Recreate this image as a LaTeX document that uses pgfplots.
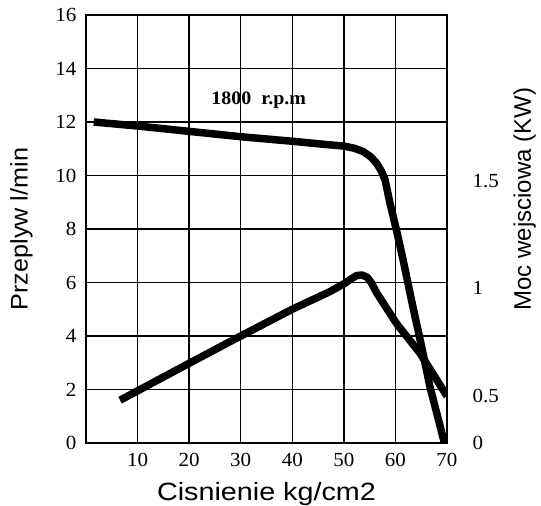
\documentclass[border=0pt]{standalone}
\usepackage{fontspec}
\setmainfont{Liberation Serif}[FakeStretch=1.05]
\newfontfamily\arialx{Liberation Sans}[FakeStretch=1.15]
\newfontfamily\arialy{Liberation Sans}[FakeStretch=1.05]
\newfontfamily\arialr{Liberation Sans}
\usepackage{pgfplots}
\pgfplotsset{compat=1.18}
\begin{document}
\begin{tikzpicture}
\useasboundingbox (-86pt,-63pt) rectangle (455pt,443pt);
\begin{axis}[
  at={(0,0)}, anchor=south west,
  scale only axis, width=361pt, height=428pt,
  xmin=0, xmax=70, ymin=0, ymax=16,
  xtick={10,20,...,70}, ytick={0,2,...,16},
  grid=major,
  major grid style={black, line width=1.3pt},
  axis line style={black, line width=2.2pt},
  major tick length=0pt,
  /pgf/number format/assume math mode=true,
  ticklabel style={font=\fontsize{20}{20}\selectfont},
  xticklabel style={yshift=-7pt},
  yticklabel style={xshift=-6pt},
  xlabel={Cisnienie kg/cm2},
  ylabel={Przeplyw l/min},
  xlabel style={font=\arialx\fontsize{25}{25}\selectfont, yshift=-8pt},
  ylabel style={font=\arialy\fontsize{24}{24}\selectfont, yshift=16pt},
]
\addplot[black, line width=7.5pt, line join=round, line cap=butt] coordinates {
 (1.5,12.0) (10,11.85) (20,11.65) (30,11.45) (40,11.28) (47,11.15) (50,11.1)
 (52,11.02) (53.8,10.89) (55.2,10.7) (56.4,10.45) (57.3,10.15) (58,9.83)
 (58.95,8.96) (60.2,7.96) (61.5,6.84) (63.1,5.35) (64.8,3.85) (66.7,2.1) (69.5,0)
};
\addplot[black, line width=7.5pt, line join=round, line cap=butt] coordinates {
 (6.6,1.6) (10,1.95) (20,2.98) (30,4.0) (40,5.0) (47.3,5.66) (50.2,5.97)
 (51.5,6.15) (52.5,6.26) (53.5,6.28) (54.5,6.2) (55.3,6.0) (56.4,5.6)
 (60.2,4.47) (64.8,3.35) (70,1.75)
};
\node[font=\bfseries\fontsize{19}{19}\selectfont] at (axis cs:33.5,12.8) {1800~~r.p.m};
\end{axis}
\begin{axis}[
  at={(0,0)}, anchor=south west,
  scale only axis, width=361pt, height=428pt,
  xmin=0, xmax=70, ymin=0, ymax=16,
  axis x line=none,
  axis y line*=right,
  axis line style={black, line width=2.2pt, -},
  ytick={0,1.75,5.8,9.8},
  yticklabels={0,0.5,1,1.5},
  major tick length=0pt,
  /pgf/number format/assume math mode=true,
  yticklabel style={font=\fontsize{20}{20}\selectfont, anchor=west, xshift=22pt},
  ylabel={Moc wejsciowa (KW)},
  ylabel style={font=\arialr\fontsize{24}{24}\selectfont, at={(axis description cs:1,0.57)}, yshift=-63pt},
]
\end{axis}
\end{tikzpicture}
\end{document}
